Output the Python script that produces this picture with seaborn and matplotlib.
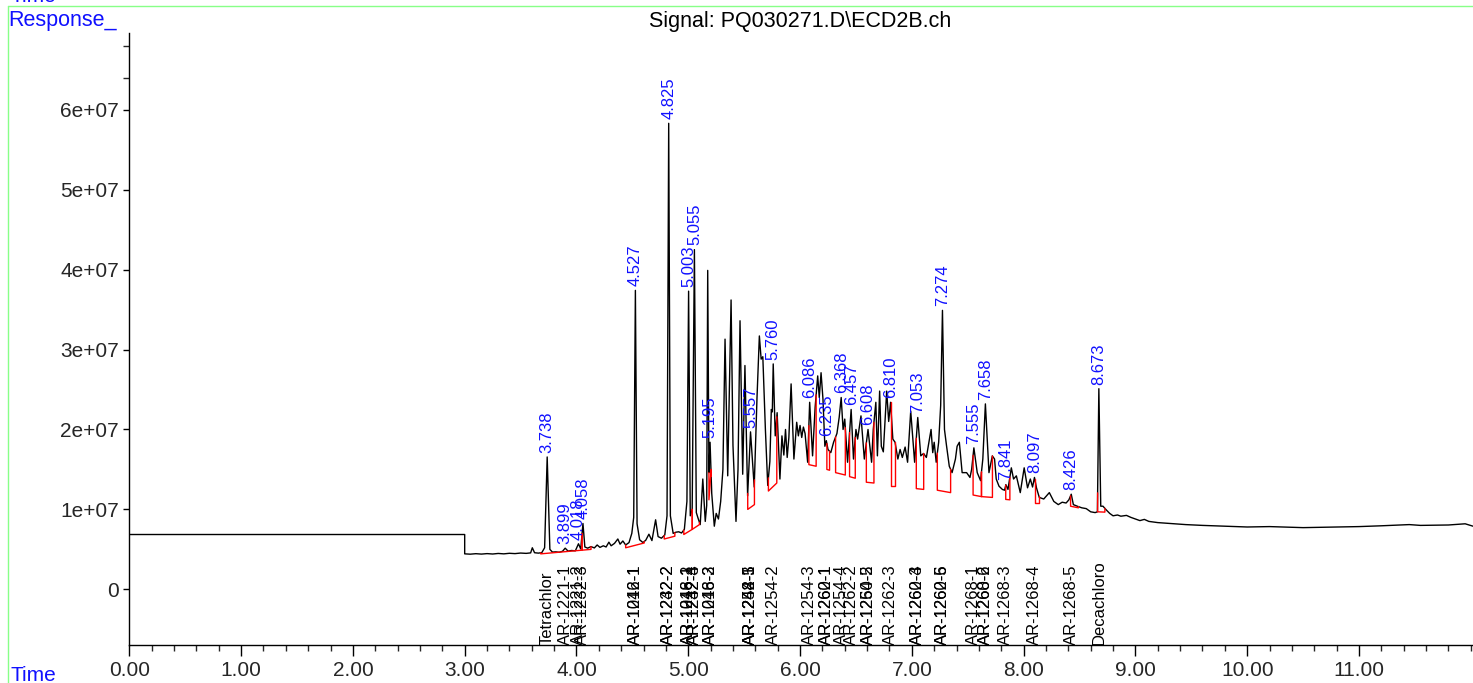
import matplotlib
matplotlib.use("Agg")
import matplotlib.pyplot as plt
import numpy as np
import pandas as pd
import seaborn as sns
from matplotlib.lines import Line2D
from matplotlib.ticker import MultipleLocator, FixedLocator

# signal trace, time in min, response in units of 1e5
trace_t = [0.00, 3.00, 3.00, 3.05, 3.10, 3.15, 3.20, 3.25, 3.30, 3.35, 3.40, 3.45, 3.50, 3.55,
           3.59, 3.605, 3.625, 3.66, 3.69, 3.715, 3.738, 3.762, 3.785, 3.815, 3.845, 3.875,
           3.899, 3.925, 3.955, 3.99, 4.018, 4.038, 4.058, 4.075, 4.10, 4.13, 4.16, 4.185,
           4.21, 4.24, 4.265, 4.29, 4.31, 4.34, 4.37, 4.39, 4.415, 4.44, 4.47, 4.495, 4.512,
           4.527, 4.542, 4.565, 4.595, 4.62, 4.648, 4.675, 4.708, 4.73, 4.76, 4.79, 4.81,
           4.825, 4.84, 4.865, 4.89, 4.915, 4.94, 4.965, 4.988, 5.003, 5.018, 5.035, 5.055,
           5.072, 5.09, 5.107, 5.13, 5.152, 5.165, 5.174, 5.185, 5.195, 5.21, 5.233, 5.25,
           5.27, 5.29, 5.31, 5.329, 5.353, 5.383, 5.40, 5.427, 5.445, 5.463, 5.487, 5.507,
           5.531, 5.545, 5.557, 5.59, 5.615, 5.636, 5.652, 5.667, 5.69, 5.711, 5.73, 5.743,
           5.752, 5.760, 5.778, 5.795, 5.82, 5.838, 5.855, 5.87, 5.885, 5.90, 5.92, 5.945,
           5.97, 5.985, 6.00, 6.015, 6.03, 6.045, 6.068, 6.086, 6.112, 6.135, 6.158, 6.172,
           6.188, 6.205, 6.222, 6.235, 6.25, 6.275, 6.30, 6.33, 6.35, 6.368, 6.385, 6.40,
           6.425, 6.457, 6.478, 6.50, 6.515, 6.545, 6.575, 6.608, 6.64, 6.655, 6.678, 6.692,
           6.712, 6.727, 6.745, 6.775, 6.793, 6.810, 6.83, 6.85, 6.875, 6.895, 6.915, 6.94,
           6.962, 6.99, 7.025, 7.053, 7.08, 7.105, 7.13, 7.172, 7.187, 7.20, 7.218, 7.24,
           7.258, 7.274, 7.292, 7.31, 7.335, 7.36, 7.39, 7.405, 7.425, 7.45, 7.49, 7.52,
           7.535, 7.555, 7.585, 7.615, 7.635, 7.658, 7.69, 7.72, 7.74, 7.755, 7.78, 7.81,
           7.83, 7.841, 7.86, 7.89, 7.91, 7.935, 7.97, 8.005, 8.035, 8.06, 8.08, 8.097,
           8.115, 8.14, 8.18, 8.23, 8.27, 8.31, 8.345, 8.38, 8.405, 8.426, 8.445, 8.48,
           8.52, 8.56, 8.60, 8.64, 8.66, 8.673, 8.69, 8.71, 8.735, 8.77, 8.80, 8.84, 8.87,
           8.92, 8.96, 9.00, 9.04, 9.08, 9.12, 9.20, 9.30, 9.45, 9.60, 9.80, 10.0, 10.2,
           10.5, 10.8, 11.0, 11.2, 11.45, 11.55, 11.8, 11.95, 12.02]
trace_r = [68.6, 68.6, 44.4, 44.0, 44.6, 44.1, 44.7, 44.2, 44.9, 44.4, 45.1, 44.7, 45.4, 45.0,
           45.6, 52.0, 45.8, 45.3, 46.0, 52.0, 165.6, 50.0, 46.6, 46.9, 46.4, 47.6,
           51.5, 47.8, 48.6, 48.2, 57.0, 50.5, 82.4, 53.0, 51.5, 53.5, 51.8, 55.5,
           52.5, 54.5, 53.0, 59.0, 54.5, 57.5, 63.0, 56.5, 60.5, 55.5, 58.5, 70.0, 90.0,
           374.0, 82.0, 62.0, 58.5, 61.5, 69.0, 61.0, 87.0, 66.0, 64.0, 68.0, 92.0,
           583.0, 92.0, 70.0, 71.5, 72.0, 70.5, 75.0, 110.0, 373.0, 92.0, 100.0, 425.0,
           96.0, 88.0, 81.0, 138.0, 85.0, 105.0, 399.0, 146.0, 184.0, 120.0, 79.0, 95.0,
           88.0, 110.0, 150.0, 313.0, 142.0, 362.0, 180.0, 85.0, 150.0, 336.0, 144.0, 280.0,
           117.0, 160.0, 197.0, 128.0, 240.0, 317.0, 288.0, 291.0, 200.0, 130.0, 160.0, 225.0,
           222.0, 282.0, 192.0, 221.0, 138.0, 192.0, 168.0, 200.0, 165.0, 190.0, 257.0, 163.0,
           209.0, 192.0, 205.0, 190.0, 203.0, 195.0, 159.0, 234.0, 167.0, 228.0, 267.0, 240.0,
           271.0, 238.0, 179.0, 186.0, 175.0, 171.0, 184.0, 195.0, 215.0, 240.0, 200.0, 213.0,
           159.0, 225.0, 163.0, 200.0, 188.0, 217.0, 163.0, 200.0, 159.0, 200.0, 234.0, 167.0,
           248.0, 179.0, 172.0, 248.0, 210.0, 234.0, 188.0, 184.0, 163.0, 175.0, 165.0, 178.0,
           159.0, 223.0, 159.0, 215.0, 167.0, 170.0, 165.0, 200.0, 171.0, 184.0, 159.0, 184.0,
           230.0, 349.0, 200.0, 180.0, 154.0, 146.0, 163.0, 179.0, 184.0, 146.0, 146.0, 140.0,
           150.0, 177.0, 146.0, 136.0, 163.0, 232.0, 146.0, 167.0, 163.0, 138.0, 129.0, 125.0,
           124.0, 131.0, 125.0, 152.0, 138.0, 142.0, 121.0, 152.0, 127.0, 138.0, 128.0, 140.0,
           127.0, 115.0, 113.0, 121.0, 110.0, 106.0, 109.0, 108.0, 112.0, 119.0, 106.0, 104.0,
           102.0, 101.0, 97.0, 96.0, 97.0, 251.0, 104.0, 104.0, 100.0, 95.0, 92.0, 93.0, 91.5,
           92.5, 90.0, 88.0, 86.0, 87.5, 85.0, 83.5, 82.5, 81.0, 80.0, 79.0, 78.0, 78.5,
           77.2, 78.0, 78.5, 79.5, 81.0, 80.0, 80.5, 82.0, 79.0]

# integration baselines (start, end, base response at start/end, 1e5)
base_t0 = [3.68, 4.05, 4.44, 4.785, 4.96, 5.035, 5.185, 5.532, 5.717, 6.079, 6.24, 6.318,
           6.443, 6.593, 6.81, 7.04, 7.228, 7.548, 7.623, 7.84, 8.10, 8.42, 8.662]
base_t1 = [4.05, 4.13, 4.606, 4.88, 5.035, 5.10, 5.205, 5.592, 5.792, 6.144, 6.264, 6.405,
           6.494, 6.661, 6.846, 7.106, 7.347, 7.623, 7.721, 7.877, 8.137, 8.49, 8.727]
base_r0 = [44.4, 49.0, 52.0, 63.0, 68.6, 75.0, 112.0, 100.0, 123.0, 156.0, 150.0, 146.0,
           141.0, 134.0, 129.0, 126.0, 124.0, 118.0, 116.0, 112.5, 107.5, 104.0, 97.0]
base_r1 = [49.0, 50.0, 58.0, 66.5, 75.0, 81.0, 150.0, 106.0, 133.0, 154.0, 149.0, 143.0,
           139.0, 133.0, 129.0, 125.0, 121.0, 116.0, 115.0, 112.0, 107.5, 102.0, 96.6]

peak_labels = ["3.738", "3.899", "4.018", "4.058", "4.527", "4.825", "5.003", "5.055",
               "5.195", "5.557", "5.760", "6.086", "6.235", "6.368", "6.457", "6.608",
               "6.810", "7.053", "7.274", "7.555", "7.658", "7.841", "8.097", "8.426", "8.673"]

comp_names = ["Tetrachlor", "AR-1221-1", "AR-1221-2", "AR-1232-3", "AR-1016-1", "AR-1242-1",
              "AR-1232-2", "AR-1242-2", "AR-1016-2", "AR-1248-1", "AR-1242-3", "AR-1232-4",
              "AR-1016-3", "AR-1248-2", "AR-1248-3", "AR-1242-5", "AR-1254-1", "AR-1254-2",
              "AR-1254-3", "AR-1260-1", "AR-1262-1", "AR-1254-4", "AR-1262-2", "AR-1260-2",
              "AR-1254-5", "AR-1262-3", "AR-1260-3", "AR-1262-4", "AR-1260-5", "AR-1262-6",
              "AR-1268-1", "AR-1268-2", "AR-1260-6", "AR-1268-3", "AR-1268-4", "AR-1268-5",
              "Decachloro"]
comp_times = [3.738, 3.899, 4.018, 4.058, 4.527, 4.527, 4.825, 4.825, 5.003, 5.003, 5.055,
              5.055, 5.195, 5.195, 5.557, 5.557, 5.557, 5.760, 6.086, 6.235, 6.235, 6.368,
              6.457, 6.608, 6.608, 6.810, 7.053, 7.053, 7.274, 7.274, 7.555, 7.658, 7.658,
              7.841, 8.097, 8.426, 8.673]

SCALE = 1e5

sns.set_style("ticks")
plt.rcParams["font.family"] = ["Liberation Sans", "DejaVu Sans"]

df = pd.DataFrame({"time": trace_t, "resp": np.array(trace_r) * SCALE})

fig = plt.figure(figsize=(14.73, 6.83), dpi=100)
ax = fig.add_axes([0.0878, 0.0552, 0.9122, 0.8965])

sns.lineplot(data=df, x="time", y="resp", estimator=None, sort=False,
             color="black", linewidth=1.0, ax=ax)

# red baselines
tt = np.array(trace_t[2:])
rr = np.array(trace_r[2:])
for t0, t1, b0, b1 in zip(base_t0, base_t1, base_r0, base_r1):
    top0 = np.interp(t0, tt, rr)
    top1 = np.interp(t1, tt, rr)
    ax.plot([t0, t0, t1, t1], np.array([top0, b0, b1, top1]) * SCALE,
            color="red", linewidth=1.0, zorder=3)

# peak labels
for lab in peak_labels:
    t = float(lab)
    h = np.interp(t, tt, rr) * SCALE
    ax.annotate(lab, (t, h), xytext=(0, 3), textcoords="offset points",
                rotation=90, ha="center", va="bottom", color="#1010ff", fontsize=12)

ax.set_xlim(0, 12.02)
ax.set_ylim(-0.7e7, 6.96e7)

# compound labels along the bottom
for name, t in zip(comp_names, comp_times):
    ax.text(t, -0.7e7, name, rotation=90, ha="center", va="bottom",
            fontsize=12, color="black")

ax.xaxis.set_minor_locator(MultipleLocator(0.2))
ax.set_xticks(np.arange(0, 12, 1))
ax.set_xticklabels([f"{v:.2f}" for v in np.arange(0, 12, 1)])
ax.set_yticks(np.arange(0, 7e7, 1e7))
ax.set_yticklabels(["0"] + [f"{i}e+07" for i in range(1, 7)])
ax.yaxis.set_minor_locator(FixedLocator([6.4e7, 6.8e7]))
ax.tick_params(axis="both", which="major", labelsize=15, color="black", width=1)
ax.tick_params(axis="x", which="major", length=8)
ax.tick_params(axis="x", which="minor", length=4.5, width=1)
ax.tick_params(axis="y", which="major", length=4)
ax.tick_params(axis="y", which="minor", length=4, width=1)
ax.set_xlabel("")
ax.set_ylabel("")
sns.despine(ax=ax)
for s in ["left", "bottom"]:
    ax.spines[s].set_color("black")
    ax.spines[s].set_linewidth(1.0)

# header texts and frame
fig.text(0.5431, 1 - 27 / 683, "Signal: PQ030271.D\\ECD2B.ch", ha="center",
         va="baseline", fontsize=15.5, color="black")
fig.text(0.0055, 1 - 26 / 683, "Response_", ha="left", va="baseline",
         fontsize=15.5, color="#1010ff")
fig.text(0.0068, 1 - 2 / 683, "Time", ha="left", va="baseline",
         fontsize=15, color="#1010ff")
fig.text(0.0068, 2 / 683, "Time", ha="left", va="baseline",
         fontsize=15, color="#1010ff")
green = "#88ff88"
fig.add_artist(Line2D([0.0054, 1.0], [1 - 5.7 / 683, 1 - 5.7 / 683],
                      transform=fig.transFigure, color=green, linewidth=1))
fig.add_artist(Line2D([0.0054, 0.0054], [0, 1 - 5.7 / 683],
                      transform=fig.transFigure, color=green, linewidth=1))

fig.savefig("out.png", dpi=100)
